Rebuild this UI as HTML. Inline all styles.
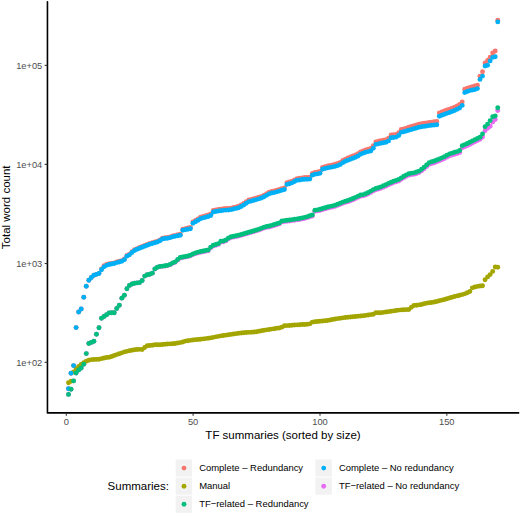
<!DOCTYPE html>
<html><head><meta charset="utf-8"><style>
html,body{margin:0;padding:0;background:#fff;}
svg{display:block;}
text{font-family:"Liberation Sans",sans-serif;}
.tk{font-size:9.3px;fill:#4D4D4D;}
.ti{font-size:11.5px;fill:#000;}
.lg{font-size:9.45px;fill:#000;}
</style></head><body>
<svg width="520" height="514" viewBox="0 0 520 514">
<rect width="520" height="514" fill="#fff"/>
<g fill="#F8766D"><circle cx="68.50" cy="388.80" r="2.45"/><circle cx="71.04" cy="373.20" r="2.45"/><circle cx="73.58" cy="365.60" r="2.45"/><circle cx="76.12" cy="327.60" r="2.45"/><circle cx="78.66" cy="312.00" r="2.45"/><circle cx="81.20" cy="309.00" r="2.45"/><circle cx="83.74" cy="297.20" r="2.45"/><circle cx="86.28" cy="286.20" r="2.45"/><circle cx="88.82" cy="280.20" r="2.45"/><circle cx="91.36" cy="277.50" r="2.45"/><circle cx="93.90" cy="275.20" r="2.45"/><circle cx="96.44" cy="274.37" r="2.45"/><circle cx="98.98" cy="273.35" r="2.45"/><circle cx="101.52" cy="269.07" r="2.45"/><circle cx="104.06" cy="265.67" r="2.45"/><circle cx="106.60" cy="264.43" r="2.45"/><circle cx="109.14" cy="263.81" r="2.45"/><circle cx="111.68" cy="263.33" r="2.45"/><circle cx="114.22" cy="262.88" r="2.45"/><circle cx="116.76" cy="261.99" r="2.45"/><circle cx="119.30" cy="261.30" r="2.45"/><circle cx="121.84" cy="260.60" r="2.45"/><circle cx="124.38" cy="259.02" r="2.45"/><circle cx="126.92" cy="255.51" r="2.45"/><circle cx="129.46" cy="254.16" r="2.45"/><circle cx="132.00" cy="251.80" r="2.45"/><circle cx="134.54" cy="249.78" r="2.45"/><circle cx="137.08" cy="248.60" r="2.45"/><circle cx="139.62" cy="247.53" r="2.45"/><circle cx="142.16" cy="246.54" r="2.45"/><circle cx="144.70" cy="245.54" r="2.45"/><circle cx="147.24" cy="244.50" r="2.45"/><circle cx="149.78" cy="243.49" r="2.45"/><circle cx="152.32" cy="242.74" r="2.45"/><circle cx="154.86" cy="241.98" r="2.45"/><circle cx="157.40" cy="241.19" r="2.45"/><circle cx="159.94" cy="240.02" r="2.45"/><circle cx="162.48" cy="238.17" r="2.45"/><circle cx="165.02" cy="237.79" r="2.45"/><circle cx="167.56" cy="237.41" r="2.45"/><circle cx="170.10" cy="236.83" r="2.45"/><circle cx="172.64" cy="235.99" r="2.45"/><circle cx="175.18" cy="235.33" r="2.45"/><circle cx="177.72" cy="234.81" r="2.45"/><circle cx="180.26" cy="234.20" r="2.45"/><circle cx="182.80" cy="229.20" r="2.45"/><circle cx="185.34" cy="228.62" r="2.45"/><circle cx="187.88" cy="228.04" r="2.45"/><circle cx="190.42" cy="227.46" r="2.45"/><circle cx="192.96" cy="221.84" r="2.45"/><circle cx="195.50" cy="220.40" r="2.45"/><circle cx="198.04" cy="218.84" r="2.45"/><circle cx="200.58" cy="217.24" r="2.45"/><circle cx="203.12" cy="216.35" r="2.45"/><circle cx="205.66" cy="215.74" r="2.45"/><circle cx="208.20" cy="214.96" r="2.45"/><circle cx="210.74" cy="213.98" r="2.45"/><circle cx="213.28" cy="210.41" r="2.45"/><circle cx="215.82" cy="209.97" r="2.45"/><circle cx="218.36" cy="209.54" r="2.45"/><circle cx="220.90" cy="209.15" r="2.45"/><circle cx="223.44" cy="208.78" r="2.45"/><circle cx="225.98" cy="208.53" r="2.45"/><circle cx="228.52" cy="208.47" r="2.45"/><circle cx="231.06" cy="208.10" r="2.45"/><circle cx="233.60" cy="207.48" r="2.45"/><circle cx="236.14" cy="206.85" r="2.45"/><circle cx="238.68" cy="206.22" r="2.45"/><circle cx="241.22" cy="204.98" r="2.45"/><circle cx="243.76" cy="203.44" r="2.45"/><circle cx="246.30" cy="201.62" r="2.45"/><circle cx="248.84" cy="200.04" r="2.45"/><circle cx="251.38" cy="199.37" r="2.45"/><circle cx="253.92" cy="198.71" r="2.45"/><circle cx="256.46" cy="197.97" r="2.45"/><circle cx="259.00" cy="197.23" r="2.45"/><circle cx="261.54" cy="196.36" r="2.45"/><circle cx="264.08" cy="195.12" r="2.45"/><circle cx="266.62" cy="193.71" r="2.45"/><circle cx="269.16" cy="192.20" r="2.45"/><circle cx="271.70" cy="191.42" r="2.45"/><circle cx="274.24" cy="190.94" r="2.45"/><circle cx="276.78" cy="190.21" r="2.45"/><circle cx="279.32" cy="189.43" r="2.45"/><circle cx="281.86" cy="188.64" r="2.45"/><circle cx="284.40" cy="187.86" r="2.45"/><circle cx="286.94" cy="182.74" r="2.45"/><circle cx="289.48" cy="182.03" r="2.45"/><circle cx="292.02" cy="181.16" r="2.45"/><circle cx="294.56" cy="179.88" r="2.45"/><circle cx="297.10" cy="178.61" r="2.45"/><circle cx="299.64" cy="178.23" r="2.45"/><circle cx="302.18" cy="177.83" r="2.45"/><circle cx="304.72" cy="177.55" r="2.45"/><circle cx="307.26" cy="177.53" r="2.45"/><circle cx="309.80" cy="177.31" r="2.45"/><circle cx="312.34" cy="173.34" r="2.45"/><circle cx="314.88" cy="172.39" r="2.45"/><circle cx="317.42" cy="172.03" r="2.45"/><circle cx="319.96" cy="171.43" r="2.45"/><circle cx="322.50" cy="167.34" r="2.45"/><circle cx="325.04" cy="166.58" r="2.45"/><circle cx="327.58" cy="165.92" r="2.45"/><circle cx="330.12" cy="165.40" r="2.45"/><circle cx="332.66" cy="164.89" r="2.45"/><circle cx="335.20" cy="164.29" r="2.45"/><circle cx="337.74" cy="163.54" r="2.45"/><circle cx="340.28" cy="162.33" r="2.45"/><circle cx="342.82" cy="160.51" r="2.45"/><circle cx="345.36" cy="159.09" r="2.45"/><circle cx="347.90" cy="158.03" r="2.45"/><circle cx="350.44" cy="157.00" r="2.45"/><circle cx="352.98" cy="155.99" r="2.45"/><circle cx="355.52" cy="155.04" r="2.45"/><circle cx="358.06" cy="153.79" r="2.45"/><circle cx="360.60" cy="151.93" r="2.45"/><circle cx="363.14" cy="150.83" r="2.45"/><circle cx="365.68" cy="149.87" r="2.45"/><circle cx="368.22" cy="149.19" r="2.45"/><circle cx="370.76" cy="148.50" r="2.45"/><circle cx="373.30" cy="145.70" r="2.45"/><circle cx="375.84" cy="141.89" r="2.45"/><circle cx="378.38" cy="141.30" r="2.45"/><circle cx="380.92" cy="140.70" r="2.45"/><circle cx="383.46" cy="140.14" r="2.45"/><circle cx="386.00" cy="139.59" r="2.45"/><circle cx="388.54" cy="138.22" r="2.45"/><circle cx="391.08" cy="135.05" r="2.45"/><circle cx="393.62" cy="134.69" r="2.45"/><circle cx="396.16" cy="134.33" r="2.45"/><circle cx="398.70" cy="132.72" r="2.45"/><circle cx="401.24" cy="129.52" r="2.45"/><circle cx="403.78" cy="128.88" r="2.45"/><circle cx="406.32" cy="128.14" r="2.45"/><circle cx="408.86" cy="127.31" r="2.45"/><circle cx="411.40" cy="126.51" r="2.45"/><circle cx="413.94" cy="125.73" r="2.45"/><circle cx="416.48" cy="124.94" r="2.45"/><circle cx="419.02" cy="124.16" r="2.45"/><circle cx="421.56" cy="123.67" r="2.45"/><circle cx="424.10" cy="123.26" r="2.45"/><circle cx="426.64" cy="122.85" r="2.45"/><circle cx="429.18" cy="122.44" r="2.45"/><circle cx="431.72" cy="122.13" r="2.45"/><circle cx="434.26" cy="121.81" r="2.45"/><circle cx="436.80" cy="121.50" r="2.45"/><circle cx="439.34" cy="112.99" r="2.45"/><circle cx="441.88" cy="111.95" r="2.45"/><circle cx="444.42" cy="110.92" r="2.45"/><circle cx="446.96" cy="110.06" r="2.45"/><circle cx="449.50" cy="109.25" r="2.45"/><circle cx="452.04" cy="108.22" r="2.45"/><circle cx="454.58" cy="107.16" r="2.45"/><circle cx="457.12" cy="105.90" r="2.45"/><circle cx="459.66" cy="104.56" r="2.45"/><circle cx="462.20" cy="102.00" r="2.45"/><circle cx="464.74" cy="89.30" r="2.45"/><circle cx="467.28" cy="88.30" r="2.45"/><circle cx="469.82" cy="87.40" r="2.45"/><circle cx="472.36" cy="86.70" r="2.45"/><circle cx="474.90" cy="86.00" r="2.45"/><circle cx="477.44" cy="85.20" r="2.45"/><circle cx="479.98" cy="76.20" r="2.45"/><circle cx="482.52" cy="71.80" r="2.45"/><circle cx="485.06" cy="63.00" r="2.45"/><circle cx="487.60" cy="60.50" r="2.45"/><circle cx="490.14" cy="57.30" r="2.45"/><circle cx="492.68" cy="53.00" r="2.45"/><circle cx="495.22" cy="51.00" r="2.45"/><circle cx="497.76" cy="20.30" r="2.45"/></g>
<g fill="#E76BF3"><circle cx="68.50" cy="394.40" r="2.45"/><circle cx="71.04" cy="389.30" r="2.45"/><circle cx="73.58" cy="380.90" r="2.45"/><circle cx="76.12" cy="373.00" r="2.45"/><circle cx="78.66" cy="370.00" r="2.45"/><circle cx="81.20" cy="368.00" r="2.45"/><circle cx="83.74" cy="364.30" r="2.45"/><circle cx="86.28" cy="353.60" r="2.45"/><circle cx="88.82" cy="343.50" r="2.45"/><circle cx="91.36" cy="342.40" r="2.45"/><circle cx="93.90" cy="341.30" r="2.45"/><circle cx="96.44" cy="334.20" r="2.45"/><circle cx="98.98" cy="327.70" r="2.45"/><circle cx="101.52" cy="318.19" r="2.45"/><circle cx="104.06" cy="316.56" r="2.45"/><circle cx="106.60" cy="314.81" r="2.45"/><circle cx="109.14" cy="312.92" r="2.45"/><circle cx="111.68" cy="312.80" r="2.45"/><circle cx="114.22" cy="312.77" r="2.45"/><circle cx="116.76" cy="308.47" r="2.45"/><circle cx="119.30" cy="305.24" r="2.45"/><circle cx="121.84" cy="298.17" r="2.45"/><circle cx="124.38" cy="295.32" r="2.45"/><circle cx="126.92" cy="288.78" r="2.45"/><circle cx="129.46" cy="285.41" r="2.45"/><circle cx="132.00" cy="284.02" r="2.45"/><circle cx="134.54" cy="283.19" r="2.45"/><circle cx="137.08" cy="282.90" r="2.45"/><circle cx="139.62" cy="282.61" r="2.45"/><circle cx="142.16" cy="280.56" r="2.45"/><circle cx="144.70" cy="276.08" r="2.45"/><circle cx="147.24" cy="274.81" r="2.45"/><circle cx="149.78" cy="274.18" r="2.45"/><circle cx="152.32" cy="273.17" r="2.45"/><circle cx="154.86" cy="268.97" r="2.45"/><circle cx="157.40" cy="267.30" r="2.45"/><circle cx="159.94" cy="266.56" r="2.45"/><circle cx="162.48" cy="266.33" r="2.45"/><circle cx="165.02" cy="266.02" r="2.45"/><circle cx="167.56" cy="265.59" r="2.45"/><circle cx="170.10" cy="264.67" r="2.45"/><circle cx="172.64" cy="263.20" r="2.45"/><circle cx="175.18" cy="262.19" r="2.45"/><circle cx="177.72" cy="259.95" r="2.45"/><circle cx="180.26" cy="257.95" r="2.45"/><circle cx="182.80" cy="257.46" r="2.45"/><circle cx="185.34" cy="256.96" r="2.45"/><circle cx="187.88" cy="256.48" r="2.45"/><circle cx="190.42" cy="255.76" r="2.45"/><circle cx="192.96" cy="254.56" r="2.45"/><circle cx="195.50" cy="253.55" r="2.45"/><circle cx="198.04" cy="252.84" r="2.45"/><circle cx="200.58" cy="252.24" r="2.45"/><circle cx="203.12" cy="251.73" r="2.45"/><circle cx="205.66" cy="251.21" r="2.45"/><circle cx="208.20" cy="250.69" r="2.45"/><circle cx="210.74" cy="247.82" r="2.45"/><circle cx="213.28" cy="246.05" r="2.45"/><circle cx="215.82" cy="245.23" r="2.45"/><circle cx="218.36" cy="244.40" r="2.45"/><circle cx="220.90" cy="241.99" r="2.45"/><circle cx="223.44" cy="241.79" r="2.45"/><circle cx="225.98" cy="240.80" r="2.45"/><circle cx="228.52" cy="238.74" r="2.45"/><circle cx="231.06" cy="237.52" r="2.45"/><circle cx="233.60" cy="237.00" r="2.45"/><circle cx="236.14" cy="236.49" r="2.45"/><circle cx="238.68" cy="235.98" r="2.45"/><circle cx="241.22" cy="235.31" r="2.45"/><circle cx="243.76" cy="234.56" r="2.45"/><circle cx="246.30" cy="233.81" r="2.45"/><circle cx="248.84" cy="233.05" r="2.45"/><circle cx="251.38" cy="232.30" r="2.45"/><circle cx="253.92" cy="231.55" r="2.45"/><circle cx="256.46" cy="230.80" r="2.45"/><circle cx="259.00" cy="230.04" r="2.45"/><circle cx="261.54" cy="229.05" r="2.45"/><circle cx="264.08" cy="228.05" r="2.45"/><circle cx="266.62" cy="227.40" r="2.45"/><circle cx="269.16" cy="226.94" r="2.45"/><circle cx="271.70" cy="226.25" r="2.45"/><circle cx="274.24" cy="225.47" r="2.45"/><circle cx="276.78" cy="224.69" r="2.45"/><circle cx="279.32" cy="223.92" r="2.45"/><circle cx="281.86" cy="221.90" r="2.45"/><circle cx="284.40" cy="221.58" r="2.45"/><circle cx="286.94" cy="221.26" r="2.45"/><circle cx="289.48" cy="220.94" r="2.45"/><circle cx="292.02" cy="220.58" r="2.45"/><circle cx="294.56" cy="220.22" r="2.45"/><circle cx="297.10" cy="219.87" r="2.45"/><circle cx="299.64" cy="219.46" r="2.45"/><circle cx="302.18" cy="218.92" r="2.45"/><circle cx="304.72" cy="218.38" r="2.45"/><circle cx="307.26" cy="217.67" r="2.45"/><circle cx="309.80" cy="216.81" r="2.45"/><circle cx="312.34" cy="215.94" r="2.45"/><circle cx="314.88" cy="211.37" r="2.45"/><circle cx="317.42" cy="210.90" r="2.45"/><circle cx="319.96" cy="210.40" r="2.45"/><circle cx="322.50" cy="209.64" r="2.45"/><circle cx="325.04" cy="208.88" r="2.45"/><circle cx="327.58" cy="208.16" r="2.45"/><circle cx="330.12" cy="207.50" r="2.45"/><circle cx="332.66" cy="206.98" r="2.45"/><circle cx="335.20" cy="206.30" r="2.45"/><circle cx="337.74" cy="205.32" r="2.45"/><circle cx="340.28" cy="204.32" r="2.45"/><circle cx="342.82" cy="203.27" r="2.45"/><circle cx="345.36" cy="202.40" r="2.45"/><circle cx="347.90" cy="201.69" r="2.45"/><circle cx="350.44" cy="200.78" r="2.45"/><circle cx="352.98" cy="199.76" r="2.45"/><circle cx="355.52" cy="198.59" r="2.45"/><circle cx="358.06" cy="197.35" r="2.45"/><circle cx="360.60" cy="196.32" r="2.45"/><circle cx="363.14" cy="195.86" r="2.45"/><circle cx="365.68" cy="195.07" r="2.45"/><circle cx="368.22" cy="193.79" r="2.45"/><circle cx="370.76" cy="192.41" r="2.45"/><circle cx="373.30" cy="190.92" r="2.45"/><circle cx="375.84" cy="189.83" r="2.45"/><circle cx="378.38" cy="189.09" r="2.45"/><circle cx="380.92" cy="188.18" r="2.45"/><circle cx="383.46" cy="187.15" r="2.45"/><circle cx="386.00" cy="185.96" r="2.45"/><circle cx="388.54" cy="184.70" r="2.45"/><circle cx="391.08" cy="183.63" r="2.45"/><circle cx="393.62" cy="182.60" r="2.45"/><circle cx="396.16" cy="181.76" r="2.45"/><circle cx="398.70" cy="180.94" r="2.45"/><circle cx="401.24" cy="179.32" r="2.45"/><circle cx="403.78" cy="177.67" r="2.45"/><circle cx="406.32" cy="176.29" r="2.45"/><circle cx="408.86" cy="175.14" r="2.45"/><circle cx="411.40" cy="174.59" r="2.45"/><circle cx="413.94" cy="174.34" r="2.45"/><circle cx="416.48" cy="173.56" r="2.45"/><circle cx="419.02" cy="172.58" r="2.45"/><circle cx="421.56" cy="170.75" r="2.45"/><circle cx="424.10" cy="168.72" r="2.45"/><circle cx="426.64" cy="166.49" r="2.45"/><circle cx="429.18" cy="164.25" r="2.45"/><circle cx="431.72" cy="163.48" r="2.45"/><circle cx="434.26" cy="162.70" r="2.45"/><circle cx="436.80" cy="161.75" r="2.45"/><circle cx="439.34" cy="160.78" r="2.45"/><circle cx="441.88" cy="159.67" r="2.45"/><circle cx="444.42" cy="158.51" r="2.45"/><circle cx="446.96" cy="157.17" r="2.45"/><circle cx="449.50" cy="155.83" r="2.45"/><circle cx="452.04" cy="155.04" r="2.45"/><circle cx="454.58" cy="154.30" r="2.45"/><circle cx="457.12" cy="153.61" r="2.45"/><circle cx="459.66" cy="152.55" r="2.45"/><circle cx="462.20" cy="147.77" r="2.45"/><circle cx="464.74" cy="146.72" r="2.45"/><circle cx="467.28" cy="145.66" r="2.45"/><circle cx="469.82" cy="144.39" r="2.45"/><circle cx="472.36" cy="143.12" r="2.45"/><circle cx="474.90" cy="141.84" r="2.45"/><circle cx="477.44" cy="140.55" r="2.45"/><circle cx="479.98" cy="139.30" r="2.45"/><circle cx="482.52" cy="137.00" r="2.45"/><circle cx="485.06" cy="130.70" r="2.45"/><circle cx="487.60" cy="128.30" r="2.45"/><circle cx="490.14" cy="126.30" r="2.45"/><circle cx="492.68" cy="122.00" r="2.45"/><circle cx="495.22" cy="119.50" r="2.45"/><circle cx="497.76" cy="110.50" r="2.45"/></g>
<g fill="#A3A500"><circle cx="68.50" cy="382.80" r="2.45"/><circle cx="71.04" cy="381.30" r="2.45"/><circle cx="73.58" cy="372.00" r="2.45"/><circle cx="76.12" cy="368.80" r="2.45"/><circle cx="78.66" cy="366.50" r="2.45"/><circle cx="81.20" cy="364.50" r="2.45"/><circle cx="83.74" cy="362.60" r="2.45"/><circle cx="86.28" cy="361.30" r="2.45"/><circle cx="88.82" cy="360.30" r="2.45"/><circle cx="91.36" cy="359.60" r="2.45"/><circle cx="93.90" cy="359.45" r="2.45"/><circle cx="96.44" cy="359.38" r="2.45"/><circle cx="98.98" cy="359.30" r="2.45"/><circle cx="101.52" cy="358.64" r="2.45"/><circle cx="104.06" cy="357.98" r="2.45"/><circle cx="106.60" cy="357.43" r="2.45"/><circle cx="109.14" cy="357.18" r="2.45"/><circle cx="111.68" cy="356.45" r="2.45"/><circle cx="114.22" cy="355.46" r="2.45"/><circle cx="116.76" cy="354.62" r="2.45"/><circle cx="119.30" cy="353.82" r="2.45"/><circle cx="121.84" cy="352.87" r="2.45"/><circle cx="124.38" cy="351.89" r="2.45"/><circle cx="126.92" cy="351.33" r="2.45"/><circle cx="129.46" cy="350.81" r="2.45"/><circle cx="132.00" cy="350.28" r="2.45"/><circle cx="134.54" cy="349.78" r="2.45"/><circle cx="137.08" cy="349.52" r="2.45"/><circle cx="139.62" cy="349.33" r="2.45"/><circle cx="142.16" cy="349.53" r="2.45"/><circle cx="144.70" cy="347.56" r="2.45"/><circle cx="147.24" cy="345.77" r="2.45"/><circle cx="149.78" cy="345.51" r="2.45"/><circle cx="152.32" cy="345.19" r="2.45"/><circle cx="154.86" cy="344.82" r="2.45"/><circle cx="157.40" cy="344.80" r="2.45"/><circle cx="159.94" cy="344.80" r="2.45"/><circle cx="162.48" cy="344.48" r="2.45"/><circle cx="165.02" cy="344.18" r="2.45"/><circle cx="167.56" cy="344.05" r="2.45"/><circle cx="170.10" cy="343.92" r="2.45"/><circle cx="172.64" cy="343.79" r="2.45"/><circle cx="175.18" cy="343.57" r="2.45"/><circle cx="177.72" cy="343.07" r="2.45"/><circle cx="180.26" cy="342.58" r="2.45"/><circle cx="182.80" cy="341.93" r="2.45"/><circle cx="185.34" cy="341.12" r="2.45"/><circle cx="187.88" cy="340.73" r="2.45"/><circle cx="190.42" cy="340.34" r="2.45"/><circle cx="192.96" cy="339.95" r="2.45"/><circle cx="195.50" cy="339.67" r="2.45"/><circle cx="198.04" cy="339.46" r="2.45"/><circle cx="200.58" cy="339.23" r="2.45"/><circle cx="203.12" cy="338.91" r="2.45"/><circle cx="205.66" cy="338.60" r="2.45"/><circle cx="208.20" cy="338.29" r="2.45"/><circle cx="210.74" cy="337.89" r="2.45"/><circle cx="213.28" cy="337.37" r="2.45"/><circle cx="215.82" cy="336.85" r="2.45"/><circle cx="218.36" cy="336.33" r="2.45"/><circle cx="220.90" cy="335.90" r="2.45"/><circle cx="223.44" cy="335.53" r="2.45"/><circle cx="225.98" cy="335.16" r="2.45"/><circle cx="228.52" cy="334.80" r="2.45"/><circle cx="231.06" cy="334.41" r="2.45"/><circle cx="233.60" cy="334.02" r="2.45"/><circle cx="236.14" cy="333.63" r="2.45"/><circle cx="238.68" cy="333.23" r="2.45"/><circle cx="241.22" cy="332.97" r="2.45"/><circle cx="243.76" cy="332.72" r="2.45"/><circle cx="246.30" cy="332.52" r="2.45"/><circle cx="248.84" cy="332.36" r="2.45"/><circle cx="251.38" cy="332.21" r="2.45"/><circle cx="253.92" cy="332.05" r="2.45"/><circle cx="256.46" cy="331.68" r="2.45"/><circle cx="259.00" cy="331.21" r="2.45"/><circle cx="261.54" cy="330.74" r="2.45"/><circle cx="264.08" cy="330.28" r="2.45"/><circle cx="266.62" cy="329.87" r="2.45"/><circle cx="269.16" cy="329.48" r="2.45"/><circle cx="271.70" cy="329.09" r="2.45"/><circle cx="274.24" cy="328.69" r="2.45"/><circle cx="276.78" cy="328.32" r="2.45"/><circle cx="279.32" cy="327.95" r="2.45"/><circle cx="281.86" cy="327.14" r="2.45"/><circle cx="284.40" cy="325.77" r="2.45"/><circle cx="286.94" cy="325.60" r="2.45"/><circle cx="289.48" cy="325.43" r="2.45"/><circle cx="292.02" cy="325.25" r="2.45"/><circle cx="294.56" cy="325.07" r="2.45"/><circle cx="297.10" cy="324.89" r="2.45"/><circle cx="299.64" cy="324.70" r="2.45"/><circle cx="302.18" cy="324.57" r="2.45"/><circle cx="304.72" cy="324.44" r="2.45"/><circle cx="307.26" cy="324.31" r="2.45"/><circle cx="309.80" cy="323.88" r="2.45"/><circle cx="312.34" cy="322.09" r="2.45"/><circle cx="314.88" cy="321.80" r="2.45"/><circle cx="317.42" cy="321.51" r="2.45"/><circle cx="319.96" cy="321.22" r="2.45"/><circle cx="322.50" cy="320.96" r="2.45"/><circle cx="325.04" cy="320.70" r="2.45"/><circle cx="327.58" cy="320.44" r="2.45"/><circle cx="330.12" cy="320.04" r="2.45"/><circle cx="332.66" cy="319.50" r="2.45"/><circle cx="335.20" cy="318.97" r="2.45"/><circle cx="337.74" cy="318.60" r="2.45"/><circle cx="340.28" cy="318.24" r="2.45"/><circle cx="342.82" cy="317.87" r="2.45"/><circle cx="345.36" cy="317.53" r="2.45"/><circle cx="347.90" cy="317.27" r="2.45"/><circle cx="350.44" cy="317.01" r="2.45"/><circle cx="352.98" cy="316.76" r="2.45"/><circle cx="355.52" cy="316.49" r="2.45"/><circle cx="358.06" cy="316.23" r="2.45"/><circle cx="360.60" cy="315.97" r="2.45"/><circle cx="363.14" cy="315.71" r="2.45"/><circle cx="365.68" cy="315.39" r="2.45"/><circle cx="368.22" cy="315.02" r="2.45"/><circle cx="370.76" cy="314.65" r="2.45"/><circle cx="373.30" cy="314.29" r="2.45"/><circle cx="375.84" cy="312.74" r="2.45"/><circle cx="378.38" cy="312.76" r="2.45"/><circle cx="380.92" cy="312.68" r="2.45"/><circle cx="383.46" cy="312.34" r="2.45"/><circle cx="386.00" cy="312.00" r="2.45"/><circle cx="388.54" cy="311.66" r="2.45"/><circle cx="391.08" cy="311.29" r="2.45"/><circle cx="393.62" cy="310.90" r="2.45"/><circle cx="396.16" cy="310.51" r="2.45"/><circle cx="398.70" cy="310.12" r="2.45"/><circle cx="401.24" cy="309.91" r="2.45"/><circle cx="403.78" cy="309.78" r="2.45"/><circle cx="406.32" cy="309.65" r="2.45"/><circle cx="408.86" cy="309.52" r="2.45"/><circle cx="411.40" cy="307.30" r="2.45"/><circle cx="413.94" cy="305.50" r="2.45"/><circle cx="416.48" cy="305.21" r="2.45"/><circle cx="419.02" cy="304.92" r="2.45"/><circle cx="421.56" cy="304.49" r="2.45"/><circle cx="424.10" cy="303.69" r="2.45"/><circle cx="426.64" cy="303.16" r="2.45"/><circle cx="429.18" cy="302.80" r="2.45"/><circle cx="431.72" cy="302.43" r="2.45"/><circle cx="434.26" cy="302.06" r="2.45"/><circle cx="436.80" cy="301.46" r="2.45"/><circle cx="439.34" cy="300.82" r="2.45"/><circle cx="441.88" cy="300.17" r="2.45"/><circle cx="444.42" cy="299.52" r="2.45"/><circle cx="446.96" cy="298.76" r="2.45"/><circle cx="449.50" cy="298.01" r="2.45"/><circle cx="452.04" cy="297.25" r="2.45"/><circle cx="454.58" cy="296.51" r="2.45"/><circle cx="457.12" cy="295.88" r="2.45"/><circle cx="459.66" cy="295.25" r="2.45"/><circle cx="462.20" cy="294.62" r="2.45"/><circle cx="464.74" cy="293.85" r="2.45"/><circle cx="467.28" cy="292.80" r="2.45"/><circle cx="469.82" cy="291.52" r="2.45"/><circle cx="472.36" cy="287.87" r="2.45"/><circle cx="474.90" cy="286.94" r="2.45"/><circle cx="477.44" cy="286.42" r="2.45"/><circle cx="479.98" cy="286.00" r="2.45"/><circle cx="482.52" cy="285.70" r="2.45"/><circle cx="485.06" cy="279.80" r="2.45"/><circle cx="487.60" cy="276.90" r="2.45"/><circle cx="490.14" cy="274.60" r="2.45"/><circle cx="492.68" cy="271.40" r="2.45"/><circle cx="495.22" cy="267.00" r="2.45"/><circle cx="497.76" cy="267.30" r="2.45"/></g>
<g fill="#00B0F6"><circle cx="68.50" cy="388.80" r="2.45"/><circle cx="71.04" cy="373.20" r="2.45"/><circle cx="73.58" cy="365.60" r="2.45"/><circle cx="76.12" cy="327.60" r="2.45"/><circle cx="78.66" cy="312.00" r="2.45"/><circle cx="81.20" cy="309.00" r="2.45"/><circle cx="83.74" cy="297.20" r="2.45"/><circle cx="86.28" cy="286.20" r="2.45"/><circle cx="88.82" cy="280.20" r="2.45"/><circle cx="91.36" cy="277.50" r="2.45"/><circle cx="93.90" cy="275.20" r="2.45"/><circle cx="96.44" cy="274.37" r="2.45"/><circle cx="98.98" cy="273.55" r="2.45"/><circle cx="101.52" cy="269.78" r="2.45"/><circle cx="104.06" cy="266.86" r="2.45"/><circle cx="106.60" cy="265.37" r="2.45"/><circle cx="109.14" cy="264.50" r="2.45"/><circle cx="111.68" cy="263.93" r="2.45"/><circle cx="114.22" cy="263.49" r="2.45"/><circle cx="116.76" cy="262.62" r="2.45"/><circle cx="119.30" cy="261.94" r="2.45"/><circle cx="121.84" cy="261.24" r="2.45"/><circle cx="124.38" cy="259.66" r="2.45"/><circle cx="126.92" cy="256.16" r="2.45"/><circle cx="129.46" cy="254.83" r="2.45"/><circle cx="132.00" cy="252.48" r="2.45"/><circle cx="134.54" cy="250.46" r="2.45"/><circle cx="137.08" cy="249.29" r="2.45"/><circle cx="139.62" cy="248.23" r="2.45"/><circle cx="142.16" cy="247.25" r="2.45"/><circle cx="144.70" cy="246.26" r="2.45"/><circle cx="147.24" cy="245.22" r="2.45"/><circle cx="149.78" cy="244.22" r="2.45"/><circle cx="152.32" cy="243.48" r="2.45"/><circle cx="154.86" cy="242.73" r="2.45"/><circle cx="157.40" cy="241.95" r="2.45"/><circle cx="159.94" cy="240.79" r="2.45"/><circle cx="162.48" cy="238.94" r="2.45"/><circle cx="165.02" cy="238.57" r="2.45"/><circle cx="167.56" cy="238.20" r="2.45"/><circle cx="170.10" cy="237.63" r="2.45"/><circle cx="172.64" cy="236.86" r="2.45"/><circle cx="175.18" cy="236.25" r="2.45"/><circle cx="177.72" cy="235.79" r="2.45"/><circle cx="180.26" cy="235.24" r="2.45"/><circle cx="182.80" cy="230.30" r="2.45"/><circle cx="185.34" cy="229.78" r="2.45"/><circle cx="187.88" cy="229.26" r="2.45"/><circle cx="190.42" cy="228.74" r="2.45"/><circle cx="192.96" cy="223.18" r="2.45"/><circle cx="195.50" cy="221.79" r="2.45"/><circle cx="198.04" cy="220.30" r="2.45"/><circle cx="200.58" cy="218.74" r="2.45"/><circle cx="203.12" cy="217.86" r="2.45"/><circle cx="205.66" cy="217.25" r="2.45"/><circle cx="208.20" cy="216.48" r="2.45"/><circle cx="210.74" cy="215.50" r="2.45"/><circle cx="213.28" cy="211.94" r="2.45"/><circle cx="215.82" cy="211.51" r="2.45"/><circle cx="218.36" cy="211.07" r="2.45"/><circle cx="220.90" cy="210.70" r="2.45"/><circle cx="223.44" cy="210.33" r="2.45"/><circle cx="225.98" cy="210.08" r="2.45"/><circle cx="228.52" cy="210.03" r="2.45"/><circle cx="231.06" cy="209.67" r="2.45"/><circle cx="233.60" cy="209.04" r="2.45"/><circle cx="236.14" cy="208.42" r="2.45"/><circle cx="238.68" cy="207.80" r="2.45"/><circle cx="241.22" cy="206.56" r="2.45"/><circle cx="243.76" cy="205.03" r="2.45"/><circle cx="246.30" cy="203.21" r="2.45"/><circle cx="248.84" cy="201.63" r="2.45"/><circle cx="251.38" cy="200.98" r="2.45"/><circle cx="253.92" cy="200.32" r="2.45"/><circle cx="256.46" cy="199.59" r="2.45"/><circle cx="259.00" cy="198.85" r="2.45"/><circle cx="261.54" cy="197.99" r="2.45"/><circle cx="264.08" cy="196.75" r="2.45"/><circle cx="266.62" cy="195.34" r="2.45"/><circle cx="269.16" cy="193.84" r="2.45"/><circle cx="271.70" cy="193.06" r="2.45"/><circle cx="274.24" cy="192.59" r="2.45"/><circle cx="276.78" cy="191.86" r="2.45"/><circle cx="279.32" cy="191.09" r="2.45"/><circle cx="281.86" cy="190.31" r="2.45"/><circle cx="284.40" cy="189.53" r="2.45"/><circle cx="286.94" cy="184.41" r="2.45"/><circle cx="289.48" cy="183.71" r="2.45"/><circle cx="292.02" cy="182.84" r="2.45"/><circle cx="294.56" cy="181.57" r="2.45"/><circle cx="297.10" cy="180.30" r="2.45"/><circle cx="299.64" cy="179.93" r="2.45"/><circle cx="302.18" cy="179.55" r="2.45"/><circle cx="304.72" cy="179.30" r="2.45"/><circle cx="307.26" cy="179.30" r="2.45"/><circle cx="309.80" cy="179.10" r="2.45"/><circle cx="312.34" cy="175.17" r="2.45"/><circle cx="314.88" cy="174.24" r="2.45"/><circle cx="317.42" cy="173.90" r="2.45"/><circle cx="319.96" cy="173.33" r="2.45"/><circle cx="322.50" cy="169.27" r="2.45"/><circle cx="325.04" cy="168.53" r="2.45"/><circle cx="327.58" cy="167.89" r="2.45"/><circle cx="330.12" cy="167.40" r="2.45"/><circle cx="332.66" cy="166.92" r="2.45"/><circle cx="335.20" cy="166.34" r="2.45"/><circle cx="337.74" cy="165.62" r="2.45"/><circle cx="340.28" cy="164.43" r="2.45"/><circle cx="342.82" cy="162.64" r="2.45"/><circle cx="345.36" cy="161.24" r="2.45"/><circle cx="347.90" cy="160.21" r="2.45"/><circle cx="350.44" cy="159.20" r="2.45"/><circle cx="352.98" cy="158.22" r="2.45"/><circle cx="355.52" cy="157.30" r="2.45"/><circle cx="358.06" cy="156.07" r="2.45"/><circle cx="360.60" cy="154.24" r="2.45"/><circle cx="363.14" cy="153.17" r="2.45"/><circle cx="365.68" cy="152.25" r="2.45"/><circle cx="368.22" cy="151.60" r="2.45"/><circle cx="370.76" cy="150.95" r="2.45"/><circle cx="373.30" cy="148.18" r="2.45"/><circle cx="375.84" cy="144.40" r="2.45"/><circle cx="378.38" cy="143.84" r="2.45"/><circle cx="380.92" cy="143.28" r="2.45"/><circle cx="383.46" cy="142.76" r="2.45"/><circle cx="386.00" cy="142.23" r="2.45"/><circle cx="388.54" cy="140.90" r="2.45"/><circle cx="391.08" cy="137.76" r="2.45"/><circle cx="393.62" cy="137.44" r="2.45"/><circle cx="396.16" cy="137.11" r="2.45"/><circle cx="398.70" cy="135.53" r="2.45"/><circle cx="401.24" cy="132.37" r="2.45"/><circle cx="403.78" cy="131.77" r="2.45"/><circle cx="406.32" cy="131.06" r="2.45"/><circle cx="408.86" cy="130.26" r="2.45"/><circle cx="411.40" cy="129.50" r="2.45"/><circle cx="413.94" cy="128.75" r="2.45"/><circle cx="416.48" cy="127.99" r="2.45"/><circle cx="419.02" cy="127.24" r="2.45"/><circle cx="421.56" cy="126.78" r="2.45"/><circle cx="424.10" cy="126.39" r="2.45"/><circle cx="426.64" cy="126.00" r="2.45"/><circle cx="429.18" cy="125.60" r="2.45"/><circle cx="431.72" cy="125.31" r="2.45"/><circle cx="434.26" cy="125.02" r="2.45"/><circle cx="436.80" cy="124.72" r="2.45"/><circle cx="439.34" cy="116.22" r="2.45"/><circle cx="441.88" cy="115.21" r="2.45"/><circle cx="444.42" cy="114.19" r="2.45"/><circle cx="446.96" cy="113.36" r="2.45"/><circle cx="449.50" cy="112.56" r="2.45"/><circle cx="452.04" cy="111.54" r="2.45"/><circle cx="454.58" cy="110.51" r="2.45"/><circle cx="457.12" cy="109.27" r="2.45"/><circle cx="459.66" cy="107.94" r="2.45"/><circle cx="462.20" cy="105.40" r="2.45"/><circle cx="464.74" cy="92.50" r="2.45"/><circle cx="467.28" cy="91.50" r="2.45"/><circle cx="469.82" cy="90.60" r="2.45"/><circle cx="472.36" cy="90.00" r="2.45"/><circle cx="474.90" cy="89.60" r="2.45"/><circle cx="477.44" cy="88.60" r="2.45"/><circle cx="479.98" cy="79.40" r="2.45"/><circle cx="482.52" cy="76.10" r="2.45"/><circle cx="485.06" cy="66.00" r="2.45"/><circle cx="487.60" cy="65.20" r="2.45"/><circle cx="490.14" cy="60.90" r="2.45"/><circle cx="492.68" cy="57.40" r="2.45"/><circle cx="495.22" cy="56.70" r="2.45"/><circle cx="497.76" cy="21.90" r="2.45"/></g>
<g fill="#00BF7D"><circle cx="68.50" cy="394.40" r="2.45"/><circle cx="71.04" cy="389.30" r="2.45"/><circle cx="73.58" cy="380.90" r="2.45"/><circle cx="76.12" cy="373.00" r="2.45"/><circle cx="78.66" cy="370.00" r="2.45"/><circle cx="81.20" cy="368.00" r="2.45"/><circle cx="83.74" cy="364.30" r="2.45"/><circle cx="86.28" cy="353.60" r="2.45"/><circle cx="88.82" cy="343.50" r="2.45"/><circle cx="91.36" cy="342.40" r="2.45"/><circle cx="93.90" cy="341.30" r="2.45"/><circle cx="96.44" cy="334.20" r="2.45"/><circle cx="98.98" cy="327.70" r="2.45"/><circle cx="101.52" cy="318.19" r="2.45"/><circle cx="104.06" cy="316.56" r="2.45"/><circle cx="106.60" cy="314.81" r="2.45"/><circle cx="109.14" cy="312.92" r="2.45"/><circle cx="111.68" cy="312.80" r="2.45"/><circle cx="114.22" cy="312.77" r="2.45"/><circle cx="116.76" cy="308.47" r="2.45"/><circle cx="119.30" cy="305.24" r="2.45"/><circle cx="121.84" cy="298.17" r="2.45"/><circle cx="124.38" cy="295.32" r="2.45"/><circle cx="126.92" cy="288.78" r="2.45"/><circle cx="129.46" cy="285.41" r="2.45"/><circle cx="132.00" cy="284.02" r="2.45"/><circle cx="134.54" cy="283.19" r="2.45"/><circle cx="137.08" cy="282.90" r="2.45"/><circle cx="139.62" cy="282.61" r="2.45"/><circle cx="142.16" cy="280.56" r="2.45"/><circle cx="144.70" cy="276.08" r="2.45"/><circle cx="147.24" cy="274.81" r="2.45"/><circle cx="149.78" cy="274.18" r="2.45"/><circle cx="152.32" cy="273.14" r="2.45"/><circle cx="154.86" cy="268.90" r="2.45"/><circle cx="157.40" cy="267.19" r="2.45"/><circle cx="159.94" cy="266.42" r="2.45"/><circle cx="162.48" cy="266.16" r="2.45"/><circle cx="165.02" cy="265.81" r="2.45"/><circle cx="167.56" cy="265.35" r="2.45"/><circle cx="170.10" cy="264.39" r="2.45"/><circle cx="172.64" cy="262.89" r="2.45"/><circle cx="175.18" cy="261.84" r="2.45"/><circle cx="177.72" cy="259.56" r="2.45"/><circle cx="180.26" cy="257.53" r="2.45"/><circle cx="182.80" cy="257.00" r="2.45"/><circle cx="185.34" cy="256.47" r="2.45"/><circle cx="187.88" cy="255.95" r="2.45"/><circle cx="190.42" cy="255.20" r="2.45"/><circle cx="192.96" cy="253.95" r="2.45"/><circle cx="195.50" cy="252.91" r="2.45"/><circle cx="198.04" cy="252.17" r="2.45"/><circle cx="200.58" cy="251.54" r="2.45"/><circle cx="203.12" cy="251.02" r="2.45"/><circle cx="205.66" cy="250.50" r="2.45"/><circle cx="208.20" cy="249.97" r="2.45"/><circle cx="210.74" cy="247.09" r="2.45"/><circle cx="213.28" cy="245.31" r="2.45"/><circle cx="215.82" cy="244.48" r="2.45"/><circle cx="218.36" cy="243.64" r="2.45"/><circle cx="220.90" cy="241.23" r="2.45"/><circle cx="223.44" cy="241.02" r="2.45"/><circle cx="225.98" cy="240.02" r="2.45"/><circle cx="228.52" cy="237.96" r="2.45"/><circle cx="231.06" cy="236.72" r="2.45"/><circle cx="233.60" cy="236.20" r="2.45"/><circle cx="236.14" cy="235.69" r="2.45"/><circle cx="238.68" cy="235.17" r="2.45"/><circle cx="241.22" cy="234.49" r="2.45"/><circle cx="243.76" cy="233.73" r="2.45"/><circle cx="246.30" cy="232.97" r="2.45"/><circle cx="248.84" cy="232.21" r="2.45"/><circle cx="251.38" cy="231.45" r="2.45"/><circle cx="253.92" cy="230.69" r="2.45"/><circle cx="256.46" cy="229.93" r="2.45"/><circle cx="259.00" cy="229.16" r="2.45"/><circle cx="261.54" cy="228.16" r="2.45"/><circle cx="264.08" cy="227.16" r="2.45"/><circle cx="266.62" cy="226.50" r="2.45"/><circle cx="269.16" cy="226.04" r="2.45"/><circle cx="271.70" cy="225.34" r="2.45"/><circle cx="274.24" cy="224.54" r="2.45"/><circle cx="276.78" cy="223.76" r="2.45"/><circle cx="279.32" cy="222.99" r="2.45"/><circle cx="281.86" cy="220.95" r="2.45"/><circle cx="284.40" cy="220.63" r="2.45"/><circle cx="286.94" cy="220.30" r="2.45"/><circle cx="289.48" cy="219.97" r="2.45"/><circle cx="292.02" cy="219.61" r="2.45"/><circle cx="294.56" cy="219.24" r="2.45"/><circle cx="297.10" cy="218.87" r="2.45"/><circle cx="299.64" cy="218.46" r="2.45"/><circle cx="302.18" cy="217.91" r="2.45"/><circle cx="304.72" cy="217.36" r="2.45"/><circle cx="307.26" cy="216.64" r="2.45"/><circle cx="309.80" cy="215.77" r="2.45"/><circle cx="312.34" cy="214.89" r="2.45"/><circle cx="314.88" cy="210.31" r="2.45"/><circle cx="317.42" cy="209.83" r="2.45"/><circle cx="319.96" cy="209.32" r="2.45"/><circle cx="322.50" cy="208.54" r="2.45"/><circle cx="325.04" cy="207.77" r="2.45"/><circle cx="327.58" cy="207.05" r="2.45"/><circle cx="330.12" cy="206.37" r="2.45"/><circle cx="332.66" cy="205.84" r="2.45"/><circle cx="335.20" cy="205.15" r="2.45"/><circle cx="337.74" cy="204.17" r="2.45"/><circle cx="340.28" cy="203.15" r="2.45"/><circle cx="342.82" cy="202.09" r="2.45"/><circle cx="345.36" cy="201.21" r="2.45"/><circle cx="347.90" cy="200.49" r="2.45"/><circle cx="350.44" cy="199.57" r="2.45"/><circle cx="352.98" cy="198.53" r="2.45"/><circle cx="355.52" cy="197.35" r="2.45"/><circle cx="358.06" cy="196.10" r="2.45"/><circle cx="360.60" cy="195.07" r="2.45"/><circle cx="363.14" cy="194.59" r="2.45"/><circle cx="365.68" cy="193.80" r="2.45"/><circle cx="368.22" cy="192.50" r="2.45"/><circle cx="370.76" cy="191.11" r="2.45"/><circle cx="373.30" cy="189.61" r="2.45"/><circle cx="375.84" cy="188.51" r="2.45"/><circle cx="378.38" cy="187.77" r="2.45"/><circle cx="380.92" cy="186.84" r="2.45"/><circle cx="383.46" cy="185.80" r="2.45"/><circle cx="386.00" cy="184.60" r="2.45"/><circle cx="388.54" cy="183.33" r="2.45"/><circle cx="391.08" cy="182.25" r="2.45"/><circle cx="393.62" cy="181.21" r="2.45"/><circle cx="396.16" cy="180.36" r="2.45"/><circle cx="398.70" cy="179.53" r="2.45"/><circle cx="401.24" cy="177.90" r="2.45"/><circle cx="403.78" cy="176.23" r="2.45"/><circle cx="406.32" cy="174.85" r="2.45"/><circle cx="408.86" cy="173.69" r="2.45"/><circle cx="411.40" cy="173.13" r="2.45"/><circle cx="413.94" cy="172.87" r="2.45"/><circle cx="416.48" cy="172.07" r="2.45"/><circle cx="419.02" cy="171.09" r="2.45"/><circle cx="421.56" cy="169.23" r="2.45"/><circle cx="424.10" cy="167.16" r="2.45"/><circle cx="426.64" cy="164.90" r="2.45"/><circle cx="429.18" cy="162.62" r="2.45"/><circle cx="431.72" cy="161.81" r="2.45"/><circle cx="434.26" cy="161.00" r="2.45"/><circle cx="436.80" cy="160.01" r="2.45"/><circle cx="439.34" cy="159.00" r="2.45"/><circle cx="441.88" cy="157.86" r="2.45"/><circle cx="444.42" cy="156.66" r="2.45"/><circle cx="446.96" cy="155.29" r="2.45"/><circle cx="449.50" cy="153.91" r="2.45"/><circle cx="452.04" cy="153.08" r="2.45"/><circle cx="454.58" cy="152.31" r="2.45"/><circle cx="457.12" cy="151.58" r="2.45"/><circle cx="459.66" cy="150.49" r="2.45"/><circle cx="462.20" cy="145.67" r="2.45"/><circle cx="464.74" cy="144.62" r="2.45"/><circle cx="467.28" cy="143.56" r="2.45"/><circle cx="469.82" cy="142.29" r="2.45"/><circle cx="472.36" cy="141.02" r="2.45"/><circle cx="474.90" cy="139.74" r="2.45"/><circle cx="477.44" cy="138.45" r="2.45"/><circle cx="479.98" cy="137.20" r="2.45"/><circle cx="482.52" cy="133.90" r="2.45"/><circle cx="485.06" cy="126.80" r="2.45"/><circle cx="487.60" cy="124.10" r="2.45"/><circle cx="490.14" cy="120.60" r="2.45"/><circle cx="492.68" cy="116.70" r="2.45"/><circle cx="495.22" cy="116.00" r="2.45"/><circle cx="497.76" cy="107.80" r="2.45"/></g>

<path d="M47.45 1.8 V412.9 H518.6" fill="none" stroke="#000" stroke-width="1.6" stroke-linecap="round" stroke-linejoin="round"/>

<line x1="44.650000000000006" x2="47.45" y1="65.4" y2="65.4" stroke="#333" stroke-width="1.1"/><text x="42.25" y="68.60000000000001" text-anchor="end" class="tk">1e+05</text><line x1="44.650000000000006" x2="47.45" y1="164.4" y2="164.4" stroke="#333" stroke-width="1.1"/><text x="42.25" y="167.6" text-anchor="end" class="tk">1e+04</text><line x1="44.650000000000006" x2="47.45" y1="263.5" y2="263.5" stroke="#333" stroke-width="1.1"/><text x="42.25" y="266.7" text-anchor="end" class="tk">1e+03</text><line x1="44.650000000000006" x2="47.45" y1="362.3" y2="362.3" stroke="#333" stroke-width="1.1"/><text x="42.25" y="365.5" text-anchor="end" class="tk">1e+02</text><line x1="66.3" x2="66.3" y1="412.9" y2="415.7" stroke="#333" stroke-width="1.1"/><text x="66.3" y="424.9" text-anchor="middle" class="tk">0</text><line x1="193.1" x2="193.1" y1="412.9" y2="415.7" stroke="#333" stroke-width="1.1"/><text x="193.1" y="424.9" text-anchor="middle" class="tk">50</text><line x1="320.0" x2="320.0" y1="412.9" y2="415.7" stroke="#333" stroke-width="1.1"/><text x="320.0" y="424.9" text-anchor="middle" class="tk">100</text><line x1="446.8" x2="446.8" y1="412.9" y2="415.7" stroke="#333" stroke-width="1.1"/><text x="446.8" y="424.9" text-anchor="middle" class="tk">150</text>
<text x="283.0" y="439.3" text-anchor="middle" class="ti">TF summaries (sorted by size)</text><text transform="translate(10.2 207.3) rotate(-90)" text-anchor="middle" class="ti">Total word count</text>
<text x="107.6" y="490.4" class="ti">Summaries:</text><rect x="175.7" y="459.5" width="16.4" height="17.1" fill="#F2F2F2"/><circle cx="184.0" cy="468.1" r="2.45" fill="#F8766D"/><text x="199.2" y="471.0" class="lg">Complete – Redundancy</text><rect x="175.7" y="477.6" width="16.4" height="17.1" fill="#F2F2F2"/><circle cx="184.0" cy="486.20000000000005" r="2.45" fill="#A3A500"/><text x="199.2" y="489.1" class="lg">Manual</text><rect x="175.7" y="495.7" width="16.4" height="17.1" fill="#F2F2F2"/><circle cx="184.0" cy="504.3" r="2.45" fill="#00BF7D"/><text x="199.2" y="507.2" class="lg">TF−related – Redundancy</text><rect x="315.4" y="459.5" width="16.4" height="17.1" fill="#F2F2F2"/><circle cx="323.7" cy="468.1" r="2.45" fill="#00B0F6"/><text x="338.9" y="471.0" class="lg">Complete – No redundancy</text><rect x="315.4" y="477.6" width="16.4" height="17.1" fill="#F2F2F2"/><circle cx="323.7" cy="486.20000000000005" r="2.45" fill="#E76BF3"/><text x="338.9" y="489.1" class="lg">TF−related – No redundancy</text>
</svg>
</body></html>
